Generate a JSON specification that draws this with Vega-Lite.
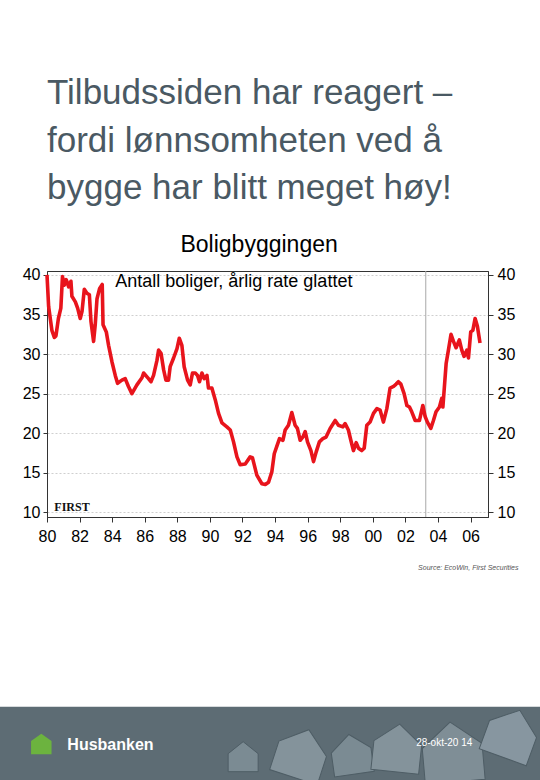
{
  "$schema": "https://vega.github.io/schema/vega-lite/v6.json",
  "autosize": "none",
  "width": 441,
  "height": 246,
  "padding": {"left": 47, "top": 271, "right": 52, "bottom": 263},
  "background": "white",
  "title": {
    "text": ["Tilbudssiden har reagert –", "fordi lønnsomheten ved å", "bygge har blitt meget høy!"],
    "anchor": "start",
    "frame": "group",
    "font": "Liberation Sans",
    "fontSize": 35,
    "fontWeight": "normal",
    "color": "#4a5963",
    "lineHeight": 47.5,
    "offset": 28
  },
  "config": {
    "font": "Liberation Sans",
    "view": {"stroke": "#333333", "strokeWidth": 1}
  },
  "datasets": {
    "series": [
    {"t": 1980.0, "v": 40.0}, {"t": 1980.1, "v": 36.0}, {"t": 1980.3, "v": 33.0}, {"t": 1980.45, "v": 32.1},
    {"t": 1980.55, "v": 32.3}, {"t": 1980.7, "v": 34.5}, {"t": 1980.85, "v": 35.8}, {"t": 1980.95, "v": 39.8},
    {"t": 1981.06, "v": 38.7}, {"t": 1981.18, "v": 39.4}, {"t": 1981.33, "v": 38.5}, {"t": 1981.47, "v": 39.2},
    {"t": 1981.53, "v": 37.3}, {"t": 1981.74, "v": 36.6}, {"t": 1981.88, "v": 35.8}, {"t": 1982.04, "v": 34.5},
    {"t": 1982.15, "v": 35.4}, {"t": 1982.29, "v": 38.2}, {"t": 1982.45, "v": 37.7}, {"t": 1982.6, "v": 37.5},
    {"t": 1982.7, "v": 34.1}, {"t": 1982.86, "v": 31.6}, {"t": 1982.96, "v": 33.7}, {"t": 1983.07, "v": 37.0},
    {"t": 1983.23, "v": 38.3}, {"t": 1983.39, "v": 38.8}, {"t": 1983.44, "v": 33.7}, {"t": 1983.64, "v": 32.8},
    {"t": 1983.78, "v": 31.1}, {"t": 1983.99, "v": 29.0}, {"t": 1984.19, "v": 27.3}, {"t": 1984.33, "v": 26.3},
    {"t": 1984.6, "v": 26.7}, {"t": 1984.8, "v": 26.9}, {"t": 1985.0, "v": 25.9}, {"t": 1985.21, "v": 25.0},
    {"t": 1985.52, "v": 26.1}, {"t": 1985.83, "v": 27.0}, {"t": 1985.93, "v": 27.6}, {"t": 1986.23, "v": 26.9},
    {"t": 1986.38, "v": 26.5}, {"t": 1986.54, "v": 27.3}, {"t": 1986.75, "v": 29.2}, {"t": 1986.85, "v": 30.5},
    {"t": 1987.0, "v": 30.1}, {"t": 1987.16, "v": 28.0}, {"t": 1987.3, "v": 26.7}, {"t": 1987.46, "v": 26.7},
    {"t": 1987.56, "v": 28.4}, {"t": 1987.77, "v": 29.5}, {"t": 1987.98, "v": 30.7}, {"t": 1988.12, "v": 32.0},
    {"t": 1988.28, "v": 31.1}, {"t": 1988.42, "v": 28.4}, {"t": 1988.63, "v": 26.7}, {"t": 1988.79, "v": 26.1},
    {"t": 1988.93, "v": 27.6}, {"t": 1989.1, "v": 27.6}, {"t": 1989.24, "v": 27.3}, {"t": 1989.36, "v": 26.5},
    {"t": 1989.51, "v": 27.6}, {"t": 1989.65, "v": 26.9}, {"t": 1989.82, "v": 27.3}, {"t": 1989.91, "v": 25.7},
    {"t": 1990.12, "v": 25.7}, {"t": 1990.33, "v": 24.2}, {"t": 1990.53, "v": 22.5}, {"t": 1990.74, "v": 21.3},
    {"t": 1991.04, "v": 20.8}, {"t": 1991.25, "v": 20.4}, {"t": 1991.45, "v": 18.9}, {"t": 1991.66, "v": 17.0},
    {"t": 1991.86, "v": 16.0}, {"t": 1992.17, "v": 16.1}, {"t": 1992.47, "v": 17.0}, {"t": 1992.61, "v": 16.9},
    {"t": 1992.88, "v": 14.7}, {"t": 1993.19, "v": 13.6}, {"t": 1993.4, "v": 13.5}, {"t": 1993.6, "v": 13.8},
    {"t": 1993.8, "v": 15.1}, {"t": 1993.95, "v": 17.4}, {"t": 1994.1, "v": 18.3}, {"t": 1994.27, "v": 19.3},
    {"t": 1994.48, "v": 19.1}, {"t": 1994.62, "v": 20.4}, {"t": 1994.82, "v": 21.0}, {"t": 1995.03, "v": 22.6},
    {"t": 1995.23, "v": 21.0}, {"t": 1995.37, "v": 20.6}, {"t": 1995.54, "v": 19.1}, {"t": 1995.7, "v": 19.5},
    {"t": 1995.85, "v": 20.2}, {"t": 1995.99, "v": 18.9}, {"t": 1996.2, "v": 17.8}, {"t": 1996.36, "v": 16.4},
    {"t": 1996.52, "v": 17.6}, {"t": 1996.72, "v": 18.9}, {"t": 1996.93, "v": 19.3}, {"t": 1997.13, "v": 19.5},
    {"t": 1997.38, "v": 20.6}, {"t": 1997.69, "v": 21.6}, {"t": 1997.89, "v": 21.0}, {"t": 1998.16, "v": 20.8},
    {"t": 1998.3, "v": 21.2}, {"t": 1998.5, "v": 20.4}, {"t": 1998.65, "v": 19.1}, {"t": 1998.81, "v": 17.8},
    {"t": 1998.98, "v": 18.8}, {"t": 1999.12, "v": 18.1}, {"t": 1999.32, "v": 17.8}, {"t": 1999.47, "v": 18.1},
    {"t": 1999.63, "v": 21.0}, {"t": 1999.83, "v": 21.4}, {"t": 2000.04, "v": 22.5}, {"t": 2000.25, "v": 23.1},
    {"t": 2000.45, "v": 22.9}, {"t": 2000.65, "v": 21.4}, {"t": 2000.86, "v": 23.1}, {"t": 2001.06, "v": 25.7},
    {"t": 2001.27, "v": 25.9}, {"t": 2001.43, "v": 26.2}, {"t": 2001.57, "v": 26.5}, {"t": 2001.72, "v": 26.2},
    {"t": 2001.92, "v": 25.0}, {"t": 2002.09, "v": 23.5}, {"t": 2002.25, "v": 23.3}, {"t": 2002.39, "v": 22.7},
    {"t": 2002.6, "v": 21.6}, {"t": 2002.86, "v": 21.6}, {"t": 2003.07, "v": 23.5}, {"t": 2003.21, "v": 22.1},
    {"t": 2003.35, "v": 21.4}, {"t": 2003.56, "v": 20.6}, {"t": 2003.72, "v": 21.6}, {"t": 2003.88, "v": 22.7},
    {"t": 2004.09, "v": 23.3}, {"t": 2004.23, "v": 24.4}, {"t": 2004.3, "v": 23.3}, {"t": 2004.5, "v": 28.8},
    {"t": 2004.64, "v": 30.5}, {"t": 2004.8, "v": 32.5}, {"t": 2004.95, "v": 31.6}, {"t": 2005.11, "v": 30.8},
    {"t": 2005.31, "v": 31.8}, {"t": 2005.46, "v": 30.5}, {"t": 2005.6, "v": 29.7}, {"t": 2005.77, "v": 30.5},
    {"t": 2005.87, "v": 29.5}, {"t": 2006.01, "v": 32.8}, {"t": 2006.14, "v": 33.0}, {"t": 2006.28, "v": 34.5},
    {"t": 2006.42, "v": 33.5}, {"t": 2006.58, "v": 31.4}
    ],
    "one": [{}]
  },
  "resolve": {"scale": {"x": "shared", "y": "shared"}, "axis": {"x": "independent", "y": "independent"}},
  "layer": [
    {
      "data": {"name": "one"},
      "mark": {"type": "rect", "color": "#5d6c74", "clip": false},
      "encoding": {
        "x": {"datum": 1976, "type": "quantitative", "axis": null},
        "x2": {"datum": 2012},
        "y": {"datum": -14.6, "type": "quantitative", "axis": null},
        "y2": {"datum": -40}
      }
    },
    {
      "data": {"name": "one"},
      "mark": {"type": "point", "shape": "M-1,1L-1,-0.2L0,-1L1,-0.2L1,1Z", "filled": true, "fill": "#7b8b93", "stroke": "#4e5d65", "strokeWidth": 1, "opacity": 1, "size": 900, "angle": 0, "clip": false},
      "encoding": {
        "x": {"datum": 1992.04, "type": "quantitative", "axis": null},
        "y": {"datum": -20.9, "type": "quantitative", "axis": null}
      }
    },
    {
      "data": {"name": "one"},
      "mark": {"type": "point", "shape": "M-1,1L-1,-0.2L0,-1L1,-0.2L1,1Z", "filled": true, "fill": "#84939b", "stroke": "#4e5d65", "strokeWidth": 1, "opacity": 1, "size": 2500, "angle": 18, "clip": false},
      "encoding": {
        "x": {"datum": 1995.6, "type": "quantitative", "axis": null},
        "y": {"datum": -20.5, "type": "quantitative", "axis": null}
      }
    },
    {
      "data": {"name": "one"},
      "mark": {"type": "point", "shape": "M-1,1L-1,-0.2L0,-1L1,-0.2L1,1Z", "filled": true, "fill": "#7b8b93", "stroke": "#4e5d65", "strokeWidth": 1, "opacity": 1, "size": 1600, "angle": -8, "clip": false},
      "encoding": {
        "x": {"datum": 1998.7, "type": "quantitative", "axis": null},
        "y": {"datum": -20.6, "type": "quantitative", "axis": null}
      }
    },
    {
      "data": {"name": "one"},
      "mark": {"type": "point", "shape": "M-1,1L-1,-0.2L0,-1L1,-0.2L1,1Z", "filled": true, "fill": "#84939b", "stroke": "#4e5d65", "strokeWidth": 1, "opacity": 1, "size": 2300, "angle": 6, "clip": false},
      "encoding": {
        "x": {"datum": 2001.5, "type": "quantitative", "axis": null},
        "y": {"datum": -19.8, "type": "quantitative", "axis": null}
      }
    },
    {
      "data": {"name": "one"},
      "mark": {"type": "point", "shape": "M-1,1L-1,-0.2L0,-1L1,-0.2L1,1Z", "filled": true, "fill": "#7f8e96", "stroke": "#4e5d65", "strokeWidth": 1, "opacity": 1, "size": 3600, "angle": -5, "clip": false},
      "encoding": {
        "x": {"datum": 2004.9, "type": "quantitative", "axis": null},
        "y": {"datum": -20.3, "type": "quantitative", "axis": null}
      }
    },
    {
      "data": {"name": "one"},
      "mark": {"type": "point", "shape": "M-1,1L-1,-0.2L0,-1L1,-0.2L1,1Z", "filled": true, "fill": "#8796a0", "stroke": "#4e5d65", "strokeWidth": 1, "opacity": 1, "size": 2500, "angle": 20, "clip": false},
      "encoding": {
        "x": {"datum": 2008.5, "type": "quantitative", "axis": null},
        "y": {"datum": -18.0, "type": "quantitative", "axis": null}
      }
    },
    {
      "data": {"name": "one"},
      "mark": {"type": "rule", "color": "#a8a8a8", "strokeWidth": 1},
      "encoding": {
        "x": {"datum": 2003.25, "type": "quantitative", "axis": null},
        "y": {"datum": 9.4, "type": "quantitative",
          "scale": {"domain": [9.4, 40.5], "nice": false, "zero": false},
          "axis": {"orient": "right", "title": null, "values": [10, 15, 20, 25, 30, 35, 40], "grid": false,
            "labelFontSize": 16, "labelColor": "#000000", "tickColor": "#333333", "tickSize": 5, "labelPadding": 4,
            "domainColor": "#333333"}},
        "y2": {"datum": 40.5}
      }
    },
    {
      "data": {"name": "series"},
      "mark": {"type": "line", "color": "#e8141c", "strokeWidth": 3.6, "strokeJoin": "round"},
      "encoding": {
        "x": {"field": "t", "type": "quantitative",
          "scale": {"domain": [1980, 2007.07], "nice": false, "zero": false},
          "axis": {"title": null, "orient": "bottom", "values": [1980, 1982, 1984, 1986, 1988, 1990, 1992, 1994, 1996, 1998, 2000, 2002, 2004, 2006],
            "labelExpr": "format(datum.value % 100, '02d')", "grid": false, "labelFontSize": 16, "labelColor": "#000000",
            "tickColor": "#333333", "tickSize": 5, "labelPadding": 6, "domainColor": "#333333", "labelFlush": false}},
        "y": {"field": "v", "type": "quantitative",
          "scale": {"domain": [9.4, 40.5], "nice": false, "zero": false},
          "axis": {"orient": "left", "title": null, "values": [10, 15, 20, 25, 30, 35, 40], "grid": true,
            "gridColor": "#cfcfcf", "gridDash": [2, 2], "gridWidth": 1,
            "labelFontSize": 16, "labelColor": "#000000", "tickColor": "#333333", "tickSize": 4, "labelPadding": 3,
            "domainColor": "#333333"}}
      }
    },
    {
      "data": {"name": "one"},
      "mark": {"type": "text", "text": "Antall boliger, årlig rate glattet", "align": "left", "baseline": "alphabetic", "fontSize": 18, "color": "#000000"},
      "encoding": {
        "x": {"datum": 1984.19, "type": "quantitative", "axis": null},
        "y": {"datum": 38.52, "type": "quantitative", "axis": null}
      }
    },
    {
      "data": {"name": "one"},
      "mark": {"type": "text", "text": "FIRST", "align": "left", "baseline": "alphabetic", "fontSize": 12, "fontWeight": "bold", "font": "Liberation Serif", "color": "#111111"},
      "encoding": {
        "x": {"datum": 1980.45, "type": "quantitative", "axis": null},
        "y": {"datum": 10.2, "type": "quantitative", "axis": null}
      }
    },
    {
      "data": {"name": "one"},
      "mark": {"type": "text", "text": "Boligbyggingen", "align": "center", "baseline": "alphabetic", "fontSize": 23, "color": "#000000", "clip": false},
      "encoding": {
        "x": {"datum": 1993.02, "type": "quantitative", "axis": null},
        "y": {"datum": 42.87, "type": "quantitative", "axis": null}
      }
    },
    {
      "data": {"name": "one"},
      "mark": {"type": "text", "text": "Source: EcoWin, First Securities", "align": "left", "baseline": "alphabetic", "fontSize": 7, "fontStyle": "italic", "color": "#555555", "clip": false},
      "encoding": {
        "x": {"datum": 2002.78, "type": "quantitative", "axis": null},
        "y": {"datum": 2.66, "type": "quantitative", "axis": null}
      }
    },
    {
      "data": {"name": "one"},
      "mark": {"type": "point", "shape": "M-1,1L-1,-0.3L0,-1L1,-0.3L1,1Z", "filled": true, "color": "#6cb33f", "size": 420, "opacity": 1, "clip": false},
      "encoding": {
        "x": {"datum": 1979.65, "type": "quantitative", "axis": null},
        "y": {"datum": -19.3, "type": "quantitative", "axis": null}
      }
    },
    {
      "data": {"name": "one"},
      "mark": {"type": "text", "text": "Husbanken", "align": "left", "baseline": "alphabetic", "fontSize": 16, "fontWeight": "bold", "color": "#ffffff", "clip": false},
      "encoding": {
        "x": {"datum": 1981.25, "type": "quantitative", "axis": null},
        "y": {"datum": -20.1, "type": "quantitative", "axis": null}
      }
    },
    {
      "data": {"name": "one"},
      "mark": {"type": "text", "text": "28-okt-20 14", "align": "left", "baseline": "alphabetic", "fontSize": 10, "color": "#ffffff", "clip": false},
      "encoding": {
        "x": {"datum": 2002.66, "type": "quantitative", "axis": null},
        "y": {"datum": -19.5, "type": "quantitative", "axis": null}
      }
    }
  ]
}
